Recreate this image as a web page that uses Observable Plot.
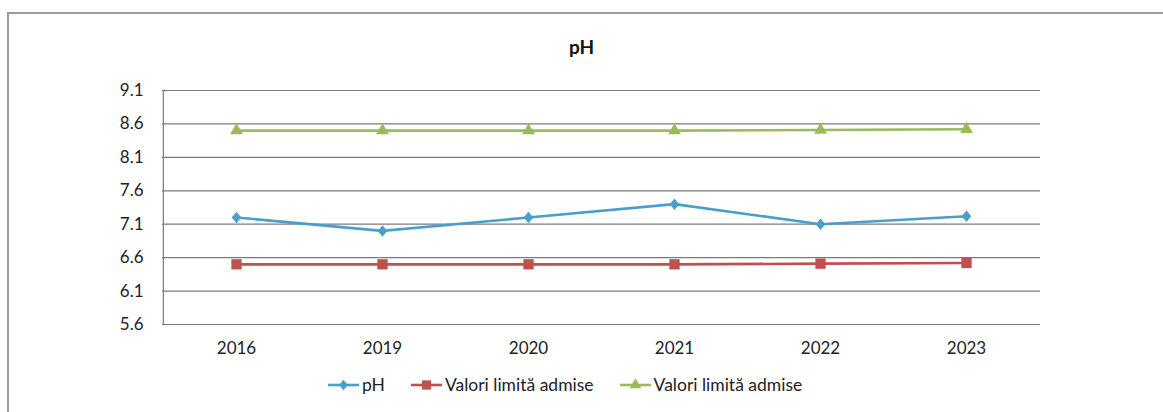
<!DOCTYPE html>
<html>
<head>
<meta charset="utf-8">
<script src="https://cdn.jsdelivr.net/npm/d3@7"></script>
<script src="https://cdn.jsdelivr.net/npm/@observablehq/plot@0.6"></script>
<style>
  html, body { margin: 0; padding: 0; background: #fff; }
  body { width: 1163px; height: 412px; position: relative; overflow: hidden; font-family: Lato, "Open Sans", sans-serif; }
  #frame { position: absolute; left: 7px; top: 12px; width: 1200px; height: 450px; border: 2px solid #9a9a9a; box-sizing: border-box; }
  #title { position: absolute; left: 0; top: 35px; width: 1163px; text-align: center; font-weight: bold; font-size: 19px; line-height: 24px; color: #111; }
  #chart { position: absolute; left: 0; top: 0; }
  #legend { position: absolute; left: 327px; top: 375px; display: flex; gap: 25px; font-size: 17.5px; line-height: 20px; color: #222; align-items: center; }
  .item { display: flex; align-items: center; }
  .item svg { margin-right: 2px; }
</style>
</head>
<body>
<div id="frame"></div>
<div id="title">pH</div>
<div id="chart"></div>
<div id="legend"></div>
<script>
const years = ["2016", "2019", "2020", "2021", "2022", "2023"];
const phValues = [7.2, 7.0, 7.2, 7.4, 7.1, 7.22];
const minLimit = [6.5, 6.5, 6.5, 6.5, 6.51, 6.52];
const maxLimit = [8.5, 8.5, 8.5, 8.5, 8.51, 8.52];
const yTicks = [5.6, 6.1, 6.6, 7.1, 7.6, 8.1, 8.6, 9.1];
const seriesNames = ["pH", "Valori limită admise", "Valori limită admise"];
const seriesColors = ["#4A9FC8", "#C0504D", "#9BBB59"];
const seriesSymbols = ["diamond", "square", "triangle"];

const rhombus = {
  draw(context, size) {
    const s = Math.sqrt(size / Math.PI);
    context.moveTo(0, -1.2 * s);
    context.lineTo(s, 0);
    context.lineTo(0, 1.2 * s);
    context.lineTo(-s, 0);
    context.closePath();
  }
};
const symbolMap = {diamond: rhombus, square: d3.symbolSquare, triangle: d3.symbolTriangle};
const sizeMap = {diamond: 4.8, square: 5.8, triangle: 4.8};

const seriesValues = [phValues, minLimit, maxLimit];
const seriesData = seriesValues.map(vals => vals.map((v, i) => ({year: years[i], value: v})));

const W = 1163, H = 372, mL = 162, mR = 123;
const bandwidth = (W - mL - mR) / years.length;
const marks = [
  Plot.ruleY(yTicks, {stroke: "#7a7a7a", strokeWidth: 1.2, strokeOpacity: 1}),
  Plot.ruleX([years[0]], {x: d => d, y1: 5.6, y2: 9.1, dx: -bandwidth / 2, stroke: "#7a7a7a", strokeWidth: 1.2})
];
seriesData.forEach((d, s) => {
  marks.push(Plot.line(d, {x: "year", y: "value", stroke: seriesColors[s], strokeWidth: 2.6}));
  marks.push(Plot.dot(d, {x: "year", y: "value", symbol: symbolMap[seriesSymbols[s]], fill: seriesColors[s], r: sizeMap[seriesSymbols[s]], stroke: "none"}));
});

const chart = Plot.plot({
  width: W,
  height: H,
  marginLeft: mL,
  marginRight: mR,
  marginTop: 90,
  marginBottom: H - 324,
  style: {fontFamily: "Lato, 'Open Sans', sans-serif", fontSize: "17px", color: "#222", background: "transparent"},
  x: {type: "band", domain: years, padding: 0, label: null, tickSize: 0, tickPadding: 17},
  y: {domain: [5.6, 9.1], ticks: yTicks, tickFormat: d3.format(".1f"), label: null, tickSize: 0, tickPadding: 19},
  marks
});
document.getElementById("chart").appendChild(chart);

// legend
const legend = document.getElementById("legend");
seriesNames.forEach((name, i) => {
  const item = document.createElement("div");
  item.className = "item";
  const r = sizeMap[seriesSymbols[i]] * 0.9;
  const path = d3.symbol(symbolMap[seriesSymbols[i]], Math.PI * r * r)();
  item.innerHTML = `<svg width="33" height="16"><line x1="1" x2="32" y1="8" y2="8" stroke="${seriesColors[i]}" stroke-width="2.6"/><path d="${path}" transform="translate(16.5,8)" fill="${seriesColors[i]}"/></svg><span>${name}</span>`;
  legend.appendChild(item);
});
</script>
</body>
</html>
